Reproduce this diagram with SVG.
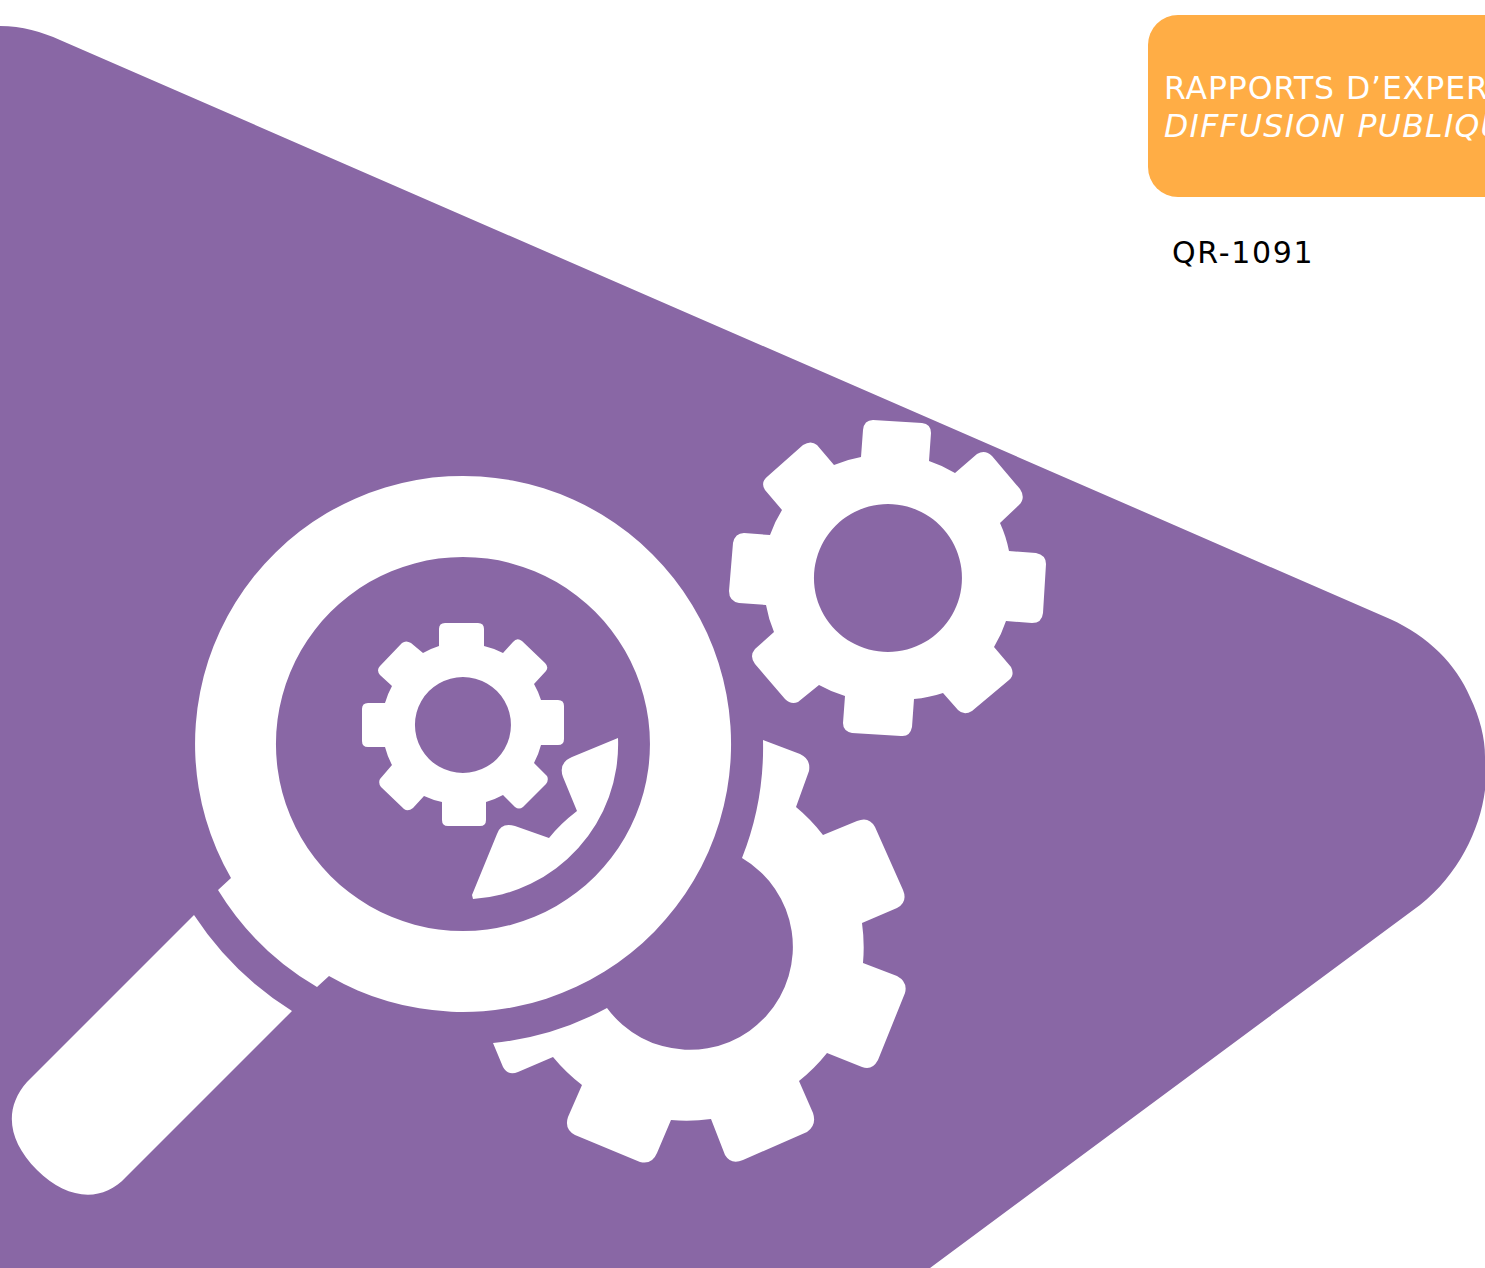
<svg xmlns="http://www.w3.org/2000/svg" width="1485" height="1268" viewBox="0 0 1485 1268">
<style>
.w{fill:#fff;fill-rule:evenodd}
.t{font-family:"DejaVu Sans",Verdana,sans-serif}
.b{font-size:31.5px;fill:#fff;letter-spacing:.9px}
</style>
<rect width="1485" height="1268" fill="#fff"/>
<path id="triangle" fill="#8967a5" d="M0 26C22 26 42 32 60 40L1390 619C1428 636 1456 664 1470 697C1480 718 1485 738 1485 757L1485 790C1480 830 1458 875 1420 905L930 1268L0 1268Z"/>
<g id="badge">
<rect x="1148" y="15" width="380" height="182" rx="30" fill="#ffad45"/>
<text class="t b" x="1164" y="99">RAPPORTS D’EXPERT</text>
<text class="t b" x="1164" y="137" font-style="italic" style="letter-spacing:1.3px">DIFFUSION PUBLIQU</text>
</g>
<g id="code"><text class="t" x="1172" y="263" font-size="30" fill="#000" letter-spacing="1.7">QR-1091</text></g>
<g id="magnifier">
<path class="w" d="M231 878L218 890A285 285 0 0 0 317 987L329 976A268 268 0 1 0 231 878ZM463 557A187 187 0 1 1 462.9 557Z"/>
<path class="w" d="M194 915A319 319 0 0 0 292 1011L126 1177C102 1203 67 1200 37 1170C7 1140 4 1108 27 1082Z"/>
</g>
<g id="gear-small">
<path class="w" d="M439 646L439 629Q439 623 445 623L478 623Q484 623 484 629L484 646A81 81 0 0 1 503 653L513 642Q517 637 522 641L545 663Q549 667 546 671L534 684A81 81 0 0 1 541 700L558 700Q564 700 564 706L564 739Q564 745 558 745L541 745A81 81 0 0 1 534 763L547 776Q549 780 546 784L523 807Q519 810 515 807L503 795A81 81 0 0 1 486 802L486 820Q486 826 480 826L448 826Q442 826 442 820L442 802A81 81 0 0 1 424 796L413 808Q408 812 404 809L381 787Q378 783 380 779L392 765A81 81 0 0 1 385 747L368 747Q362 747 362 741L362 709Q362 703 368 703L385 703A81 81 0 0 1 392 686L380 675Q376 670 380 666L402 643Q406 640 411 643L423 653A81 81 0 0 1 439 646ZM463 677A48 48 0 1 1 462.9 677Z"/>
<path class="w" d="M618 738A155 155 0 0 1 473 899L472 895L497 834Q501 822 515 826L549 838Q560 824 577 811L563 777Q558 763 572 757Z"/>
</g>
<g id="gear-right">
<path class="w" d="M861 457L863 430Q864 420 873 420L922 423Q931 424 931 433L929 461A125 125 0 0 1 955 473L977 454Q985 449 992 456L1020 489Q1026 498 1019 505L1000 523A125 125 0 0 1 1009 551L1036 553Q1046 555 1046 564L1043 613Q1042 623 1032 623L1006 621A125 125 0 0 1 994 647L1011 667Q1015 675 1009 680L972 711Q964 716 958 710L943 693A125 125 0 0 1 914 699L912 727Q910 737 901 736L852 733Q843 731 843 723L845 696A125 125 0 0 1 819 685L798 702Q791 705 785 699L755 664Q749 656 755 649L774 632A125 125 0 0 1 766 605L739 603Q729 601 729 591L733 543Q735 533 744 533L770 535A125 125 0 0 1 782 510L765 490Q760 482 768 476L803 445Q811 440 817 445L834 465A125 125 0 0 1 861 457ZM888 504A74 74 0 1 1 887.9 504Z"/>
</g>
<g id="gear-large">
<path class="w" d="M763 740L800 754Q811 759 809 771L796 807A175 175 0 0 1 823 835L857 821Q869 816 875 827L903 890Q908 902 897 908L862 923A175 175 0 0 1 863 963L897 976Q908 982 905 993L878 1060Q872 1071 862 1067L827 1053A175 175 0 0 1 799 1081L813 1113Q817 1125 807 1132L743 1160Q731 1165 725 1155L711 1119A175 175 0 0 1 671 1120L657 1153Q652 1165 640 1162L575 1135Q564 1129 568 1117L582 1085A175 175 0 0 1 553 1057L518 1072Q508 1076 503 1067L493 1043A300 300 0 0 0 607 1008A103 103 0 1 0 742 858A300 300 0 0 0 763 740Z"/>
</g>
</svg>
